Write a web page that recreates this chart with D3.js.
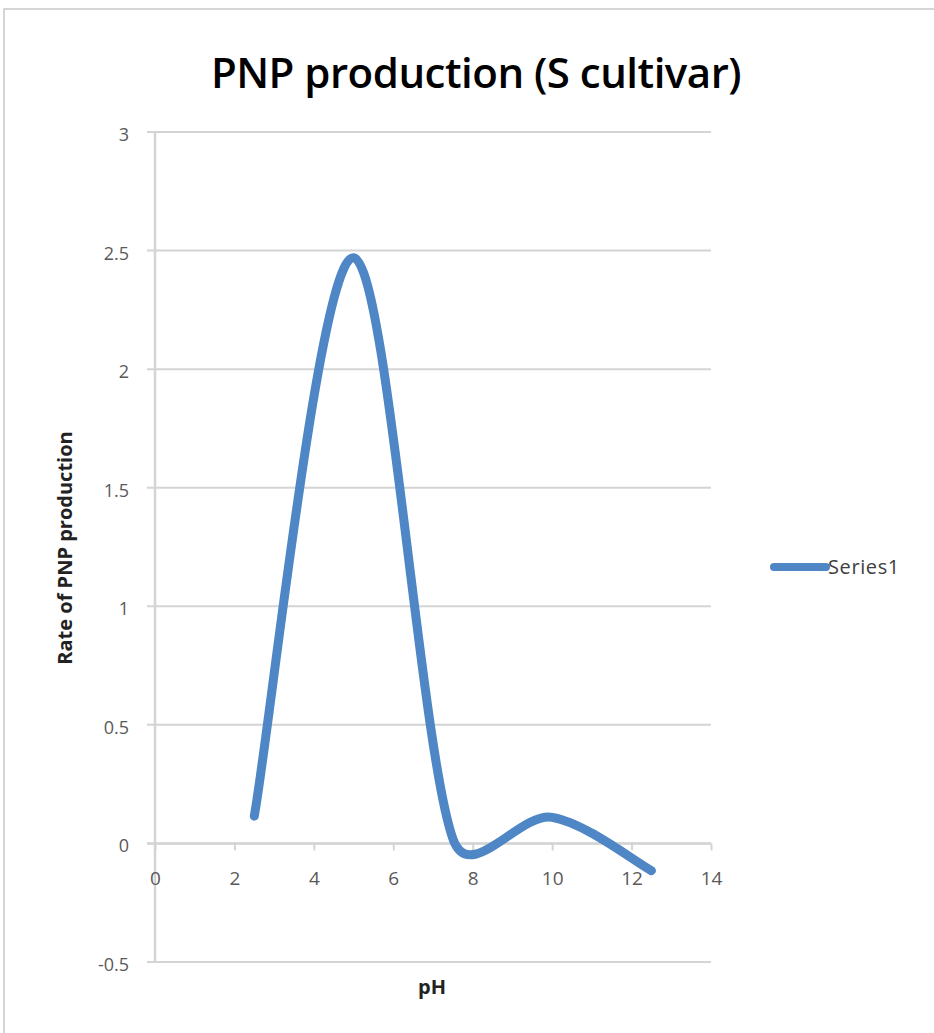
<!DOCTYPE html>
<html>
<head>
<meta charset="utf-8">
<script src="https://cdn.jsdelivr.net/npm/d3@7"></script>
<style>
  body { margin: 0; background: #fff; }
  svg text { font-family: "Open Sans", "DejaVu Sans", sans-serif; }
</style>
</head>
<body>
<svg id="chart" width="934" height="1033"></svg>
<script>
// data
var phValues = [2.5, 5, 7.5, 10, 12.5];
var rateValues = [0.115, 2.47, 0.02, 0.11, -0.115];
var xTicks = [0, 2, 4, 6, 8, 10, 12, 14];
var yTicks = [-0.5, 0, 0.5, 1, 1.5, 2, 2.5, 3];
var seriesName = 'Series1';

var svg = d3.select('#chart');

// outer chart border (cropped at right and bottom)
svg.append('rect')
  .attr('x', 4).attr('y', 9)
  .attr('width', 960).attr('height', 1060)
  .attr('fill', 'none')
  .attr('stroke', '#c8c8c8')
  .attr('stroke-width', 1.5);

var x = d3.scaleLinear().domain([0, 14]).range([155, 711]);
var y = d3.scaleLinear().domain([-0.5, 3]).range([962, 132]);

var grid = '#d4d4d4';

// horizontal gridlines
svg.append('g')
  .selectAll('line')
  .data(yTicks)
  .enter()
  .append('line')
  .attr('x1', 147)
  .attr('x2', x(14))
  .attr('y1', function(d) { return y(d); })
  .attr('y2', function(d) { return y(d); })
  .attr('stroke', grid)
  .attr('stroke-width', 2);

// y axis line
svg.append('line')
  .attr('x1', x(0)).attr('x2', x(0))
  .attr('y1', y(3)).attr('y2', y(-0.5))
  .attr('stroke', grid)
  .attr('stroke-width', 2.5);

// y tick labels
svg.append('g')
  .selectAll('text')
  .data(yTicks)
  .enter()
  .append('text')
  .text(function(d) { return d; })
  .attr('x', 129)
  .attr('y', function(d) { return y(d) + 9; })
  .attr('text-anchor', 'end')
  .attr('font-size', '18px')
  .attr('fill', '#595959');

// x axis crosses at 0
var xAxis = d3.axisBottom(x).tickValues(xTicks).tickSize(7).tickPadding(21);
var gx = svg.append('g')
  .attr('transform', 'translate(0,' + y(0) + ')')
  .call(xAxis);
gx.select('.domain').attr('stroke', grid).attr('stroke-width', 2.5)
  .attr('d', 'M' + (x(0) - 8) + ',0H' + x(14));
gx.selectAll('.tick line').attr('stroke', grid).attr('stroke-width', 2);
gx.selectAll('.tick text')
  .attr('font-size', '19px')
  .attr('fill', '#595959')
  .attr('font-family', '"Open Sans", sans-serif');

// smoothed line, the way the spreadsheet draws it:
// bezier handles of 1/6 the neighbour span, kept within half the segment
function smoothPath(pts) {
  var p = d3.path();
  p.moveTo(pts[0][0], pts[0][1]);
  function handle(from, vx, vy, seg) {
    var len = Math.sqrt(vx * vx + vy * vy), lim = seg / 2;
    if (len > lim && len > 0) { vx = vx * lim / len; vy = vy * lim / len; }
    return [from[0] + vx, from[1] + vy];
  }
  for (var i = 0; i < pts.length - 1; i++) {
    var p0 = pts[i - 1] || pts[i], p1 = pts[i], p2 = pts[i + 1], p3 = pts[i + 2] || pts[i + 1];
    var seg = Math.sqrt(Math.pow(p2[0] - p1[0], 2) + Math.pow(p2[1] - p1[1], 2));
    var c1 = handle(p1, (p2[0] - p0[0]) / 6, (p2[1] - p0[1]) / 6, seg);
    var c2 = handle(p2, -(p3[0] - p1[0]) / 6, -(p3[1] - p1[1]) / 6, seg);
    p.bezierCurveTo(c1[0], c1[1], c2[0], c2[1], p2[0], p2[1]);
  }
  return p.toString();
}

var points = phValues.map(function(d, i) { return [x(d), y(rateValues[i])]; });

svg.append('path')
  .attr('d', smoothPath(points))
  .attr('fill', 'none')
  .attr('stroke', '#4f86c6')
  .attr('stroke-width', 9)
  .attr('stroke-linecap', 'round')
  .attr('stroke-linejoin', 'round');

// title
svg.append('text')
  .text('PNP production (S cultivar)')
  .attr('x', 476)
  .attr('y', 88)
  .attr('text-anchor', 'middle')
  .attr('font-size', '42px')
  .attr('font-weight', 600)
  .attr('letter-spacing', '-0.5px')
  .attr('fill', '#000');

// axis titles
svg.append('text')
  .text('Rate of PNP production')
  .attr('transform', 'translate(72,548) rotate(-90)')
  .attr('text-anchor', 'middle')
  .attr('font-size', '20px')
  .attr('font-weight', 700)
  .attr('fill', '#222');

svg.append('text')
  .text('pH')
  .attr('x', 432)
  .attr('y', 994)
  .attr('text-anchor', 'middle')
  .attr('font-size', '20px')
  .attr('font-weight', 700)
  .attr('fill', '#222');

// legend
var legend = svg.append('g').attr('transform', 'translate(772,567)');
legend.append('line')
  .attr('x1', 2).attr('x2', 54)
  .attr('y1', 0).attr('y2', 0)
  .attr('stroke', '#4f86c6')
  .attr('stroke-width', 8)
  .attr('stroke-linecap', 'round');
legend.append('text')
  .text(seriesName)
  .attr('x', 56)
  .attr('y', 7)
  .attr('font-size', '20px')
  .attr('letter-spacing', '0.6px')
  .attr('fill', '#404040');
</script>
</body>
</html>
